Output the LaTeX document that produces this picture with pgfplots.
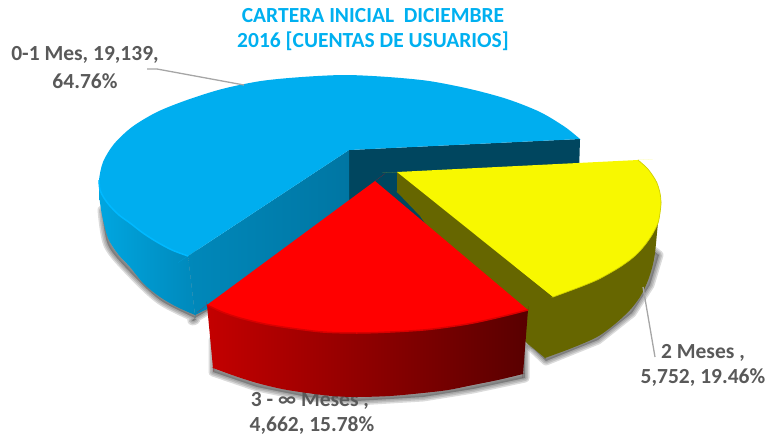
\documentclass[border=0pt]{standalone}
\usepackage{pgfplots}
\pgfplotsset{compat=1.18}
\usepackage{pgfplotstable}
\usepackage{fontspec}
\setmainfont{Carlito}
\definecolor{ttl}{HTML}{00B0F0}
\definecolor{lbl}{HTML}{595959}
\definecolor{lead}{HTML}{A6A6A6}
\definecolor{topblue}{HTML}{00AEEF}
\definecolor{rimblue}{HTML}{00B9FF}
\definecolor{darkwall}{HTML}{00465F}
\definecolor{innerA}{HTML}{0088BA}
\definecolor{innerB}{HTML}{0076A3}
\definecolor{outerA}{HTML}{00A6E0}
\definecolor{outerB}{HTML}{0088BA}
\definecolor{olive}{HTML}{666600}
\definecolor{yel}{HTML}{F8F800}
\definecolor{rimyel}{HTML}{D0D000}
\definecolor{redA}{HTML}{C40000}
\definecolor{redB}{HTML}{580000}
\definecolor{rimred}{HTML}{D80000}
\tikzset{
  lab/.style={font=\fontsize{21.5}{21.5}\selectfont\bfseries, text=lbl, anchor=center, inner sep=0pt},
  ttlfont/.style={font=\fontsize{21.5}{21.5}\selectfont\bfseries, text=ttl, inner sep=0pt},
  shad/.style={draw=gray!70!black, fill=gray!70!black, opacity=0.22, line width=#1}}

% outlines in picture pixels, y downwards; a corner is listed three times
\pgfplotstableread{
x y
99 180
100 190
104 198
110 206
119 215
130 223
143 233
157 242
172 250
188 256
188 256
188 256
195 315
195 315
195 315
177 307
160 297
144 284
130 267
118 254
108 238
102 215
99 195
}\bluewall
\pgfplotstableread{
x y
580 139
580 139
580 139
565 127
540 112
507 99
470 89
429 81
388 77
345 75
302 77
261 81
222 89
187 100
157 112
132 127
114 144
103 162
99 180
100 190
104 198
110 206
119 215
130 223
143 233
157 242
172 250
188 256
188 256
188 256
349 150
349 150
349 150
}\bluetop
\pgfplotstableread{
x y
397 172
397 172
397 172
397 192
397 192
397 192
420 216
420 216
420 216
440 245
440 245
440 245
527 343
527 343
527 343
545 358
545 358
545 358
572 348
597 337
615 324
630 310
640 297
647 283
652 268
655 253
658 223
661 203
661 203
661 203
}\yellowwall
\pgfplotstableread{
x y
397 172
397 172
397 172
638 160
638 160
638 160
647 168
653 176
657 183
660 193
661 203
660 213
658 223
652 235
645 245
638 253
630 260
620 267
610 273
597 280
580 287
553 297
553 297
553 297
}\yellowtop
\pgfplotstableread{
x y
207 305
207 305
207 305
213 368
213 368
213 368
235 376
257 383
282 389
307 393
332 396
357 397
390 396
423 393
448 390
473 385
498 380
523 374
523 374
523 374
528 310
528 310
528 310
}\redwall
\pgfplotstableread{
x y
375 181
375 181
375 181
207 305
207 305
207 305
222 312
240 318
265 324
290 328
323 332
357 333
390 332
423 330
448 327
473 323
500 317
528 310
528 310
528 310
}\redtop

\begin{document}
\begin{tikzpicture}
\begin{axis}[
    scale only axis, width=769pt, height=439pt,
    xmin=0, xmax=769, ymin=0, ymax=439, y dir=reverse,
    hide axis, clip=false, no markers,
    every axis plot/.append style={line join=round}]

  % keep the whole frame as the page
  \path (axis cs:0,0) rectangle (axis cs:769,439);

  % this one sits under the pie, its upper part is covered
  \node[lab] at (axis cs:310,401) {3 - ∞ Meses ,};
  \node[lab] at (axis cs:312,426) {4,662, 15.78\%};

  % shadows
  \addplot[shad=9pt, smooth] coordinates {(102,210) (108,245) (130,272) (160,300) (195,318) (195,318) (260,280)} -- cycle;
  \addplot[shad=6pt, smooth] coordinates {(102,210) (108,245) (130,272) (160,300) (195,318) (195,318) (260,280)} -- cycle;
  \addplot[shad=3pt, smooth] coordinates {(102,210) (108,245) (130,272) (160,300) (195,318) (195,318) (260,280)} -- cycle;
  \addplot[shad=9pt] coordinates {(213,372) (257,387) (307,397) (357,401) (423,397) (473,389) (525,378) (525,340) (213,340)} -- cycle;
  \addplot[shad=6pt] coordinates {(213,372) (257,387) (307,397) (357,401) (423,397) (473,389) (525,378) (525,340) (213,340)} -- cycle;
  \addplot[shad=3pt] coordinates {(213,372) (257,387) (307,397) (357,401) (423,397) (473,389) (525,378) (525,340) (213,340)} -- cycle;
  \addplot[shad=9pt] coordinates {(530,346) (546,361) (598,340) (632,313) (650,285) (659,255) (640,240)} -- cycle;
  \addplot[shad=6pt] coordinates {(530,346) (546,361) (598,340) (632,313) (650,285) (659,255) (640,240)} -- cycle;
  \addplot[shad=3pt] coordinates {(530,346) (546,361) (598,340) (632,313) (650,285) (659,255) (640,240)} -- cycle;

  % blue slice
  \addplot[draw=none, fill=darkwall] coordinates {(349,150) (580,139) (577,240) (349,240)} -- cycle;
  \addplot[draw=none, left color=innerA, right color=innerB] coordinates {(188,256) (349,150) (349,240) (195,315)} -- cycle;
  \addplot[draw=none, left color=outerA, right color=outerB, smooth] table {\bluewall} -- cycle;
  \addplot[draw=none, fill=topblue, smooth] table {\bluetop} -- cycle;
  \addplot[rimblue, line width=1.5pt, smooth] coordinates {(99,180) (100,190) (104,198) (110,206) (119,215) (130,223) (143,233) (157,242) (172,250) (188,256)};

  % yellow slice
  \addplot[draw=none, fill=olive, smooth] table {\yellowwall} -- cycle;
  \addplot[draw=none, fill=yel, smooth] table {\yellowtop} -- cycle;
  \addplot[rimyel, line width=0.7pt, smooth] coordinates {(638,160) (647,168) (653,176) (657,183) (660,193) (661,203) (660,213) (658,223) (652,235) (645,245) (638,253) (630,260) (620,267) (610,273) (597,280) (580,287) (553,297)};

  % red slice
  \addplot[draw=none, left color=redA, right color=redB, smooth] table {\redwall} -- cycle;
  \addplot[draw=none, fill=red, smooth] table {\redtop} -- cycle;
  \addplot[rimred, line width=1.5pt, smooth] coordinates {(207,305) (222,312) (240,318) (265,324) (290,328) (323,332) (357,333) (390,332) (423,330) (448,327) (473,323) (500,317) (528,310)};

  % leader lines
  \addplot[lead, line width=1.3pt] coordinates {(147,69) (157,69) (244,85)};
  \addplot[lead, line width=1.3pt] coordinates {(643,287) (655,357)};

  \node[ttlfont] at (axis cs:373,16) {CARTERA INICIAL\ \ DICIEMBRE};
  \node[ttlfont] at (axis cs:373,41) {2016 [CUENTAS DE USUARIOS]};
  \node[lab] at (axis cs:85,55) {0-1 Mes, 19,139,};
  \node[lab] at (axis cs:85,81) {64.76\%};
  \node[lab] at (axis cs:703,353) {2 Meses ,};
  \node[lab] at (axis cs:703,378) {5,752, 19.46\%};
\end{axis}
\end{tikzpicture}
\end{document}
